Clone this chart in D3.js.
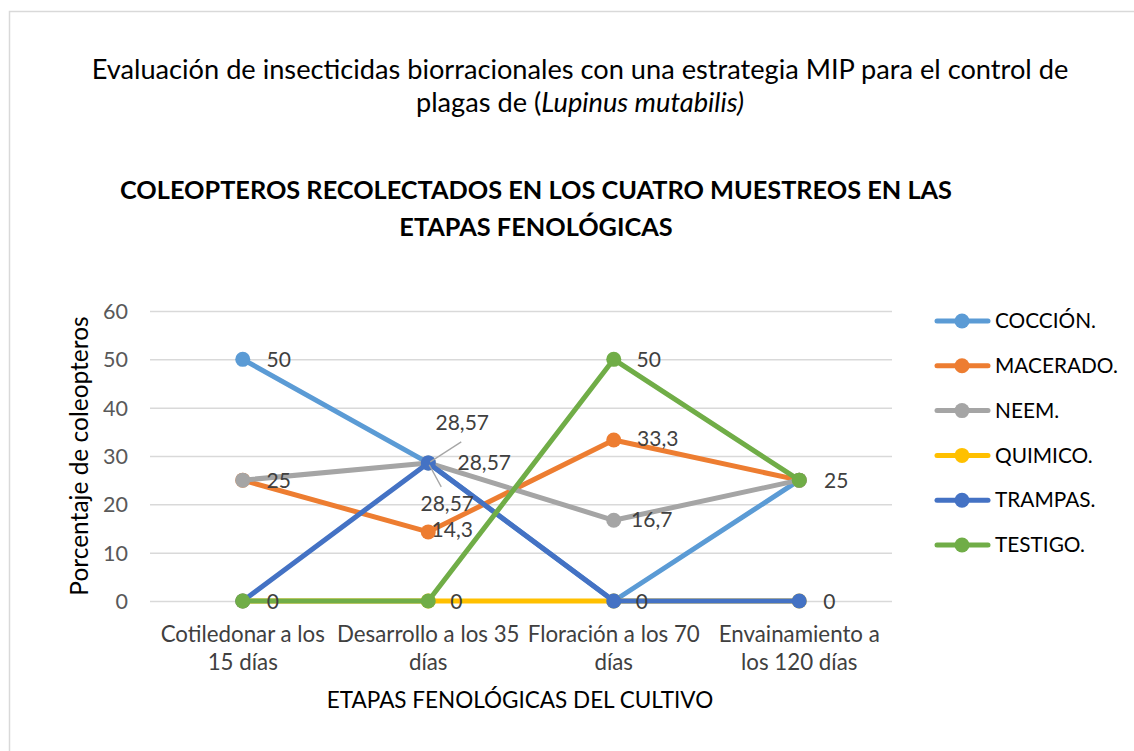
<!DOCTYPE html>
<html><head><meta charset="utf-8">
<script src="https://cdn.jsdelivr.net/npm/d3@7"></script>
<style>
html,body{margin:0;padding:0;background:#fff;}
svg{display:block;font-family:"Lato","Open Sans",sans-serif;}
</style></head>
<body><svg id="c" width="1134" height="751"></svg>
<script>
const categories = [["Cotiledonar a los","15 días"],["Desarrollo a los 35","días"],["Floración a los 70","días"],["Envainamiento a","los 120 días"]];
const seriesNames = ["COCCIÓN.","MACERADO.","NEEM.","QUIMICO.","TRAMPAS.","TESTIGO."];
const coccion  = [50, 28.57, 0, 25];
const macerado = [25, 14.3, 33.3, 25];
const neem     = [25, 28.57, 16.7, 25];
const quimico  = [0, 0, 0, 0];
const trampas  = [0, 28.57, 0, 0];
const testigo  = [0, 0, 50, 25];
const yTicks = [0,10,20,30,40,50,60];
const colors = ["#5B9BD5","#ED7D31","#A5A5A5","#FFC000","#4472C4","#70AD47"];
const allValues = [coccion, macerado, neem, quimico, trampas, testigo];

// label visibility/placement: [seriesIndex, pointIndex, dx, dy, leader]
const labelPlacements = [
  [0,0,36,0],[1,0,36,0],[5,0,30,1],
  [0,1,34,-40,true],[2,1,56,0],[4,1,19,41,true],[1,1,24,-2],[5,1,28,1],
  [5,2,35,0],[1,2,44,-1],[2,2,38,-1],[4,2,28,1],
  [5,3,37,0],[4,3,30,1]
];

const svg = d3.select("#c");
// outer border
svg.append("rect").attr("x",9.5).attr("y",11.5).attr("width",1140).attr("height",760)
  .attr("fill","#fff").attr("stroke","#d9d9d9").attr("stroke-width",1.5);

// titles
svg.append("text").attr("x",580).attr("y",79).attr("text-anchor","middle")
  .attr("font-size",27.2).attr("fill","#000")
  .text("Evaluación de insecticidas biorracionales con una estrategia MIP para el control de");
const t2 = svg.append("text").attr("x",580).attr("y",112).attr("text-anchor","middle")
  .attr("font-size",27.2).attr("fill","#000");
t2.append("tspan").text("plagas de (");
t2.append("tspan").attr("font-style","italic").text("Lupinus mutabilis)");

svg.append("text").attr("x",536).attr("y",199).attr("text-anchor","middle")
  .attr("font-size",25.3).attr("font-weight","bold").attr("fill","#000")
  .text("COLEOPTEROS RECOLECTADOS EN LOS CUATRO MUESTREOS EN LAS");
svg.append("text").attr("x",536).attr("y",236).attr("text-anchor","middle")
  .attr("font-size",25.3).attr("font-weight","bold").attr("fill","#000")
  .text("ETAPAS FENOLÓGICAS");

const x0 = 150, x1 = 892, yTop = 311, yBot = 601;
const x = d3.scalePoint().domain(d3.range(categories.length)).range([x0,x1]).padding(0.5);
const y = d3.scaleLinear().domain([0,60]).range([yBot,yTop]);

// gridlines
const yAxis = d3.axisLeft(y).tickValues(yTicks).tickSize(-(x1-x0)).tickPadding(22);
const ga = svg.append("g").attr("transform",`translate(${x0},0)`).call(yAxis);
ga.select(".domain").remove();
ga.selectAll(".tick line").attr("stroke","#d9d9d9").attr("stroke-width",1.5);
ga.selectAll(".tick text").attr("font-size",21.5).attr("fill","#595959")
  .attr("font-family","Lato, sans-serif").attr("dy","0.35em");

// x labels
const xg = svg.append("g");
categories.forEach((c,i)=>{
  c.forEach((line,j)=>{
    xg.append("text").attr("x",x(i)).attr("y",642+j*28).attr("text-anchor","middle")
      .attr("font-size",22.3).attr("fill","#404040").text(line);
  });
});

// axis titles
svg.append("text").attr("transform",`translate(88,${(yTop+yBot)/2}) rotate(-90)`)
  .attr("text-anchor","middle").attr("font-size",24.5).attr("fill","#000")
  .text("Porcentaje de coleopteros");
svg.append("text").attr("x",520).attr("y",708).attr("text-anchor","middle")
  .attr("font-size",22.5).attr("fill","#000").text("ETAPAS FENOLÓGICAS DEL CULTIVO");

// lines
const line = d3.line().x((d,i)=>x(i)).y(d=>y(d));
allValues.forEach((vals,s)=>{
  const g = svg.append("g");
  g.append("path").attr("d",line(vals)).attr("fill","none").attr("stroke",colors[s])
    .attr("stroke-width",5).attr("stroke-linejoin","round").attr("stroke-linecap","round");
  g.selectAll("circle").data(vals).join("circle")
    .attr("cx",(d,i)=>x(i)).attr("cy",d=>y(d)).attr("r",7.5).attr("fill",colors[s]);
});

// data labels
const fmt = v => String(v).replace(".",",");
labelPlacements.forEach(([s,i,dx,dy,leader])=>{
  const v = allValues[s][i];
  const px = x(i), py = y(v);
  if (leader) {
    if (dy < 0) {
      svg.append("line").attr("x1",px+2).attr("y1",py-1).attr("x2",px+33).attr("y2",py-21)
        .attr("stroke","#a6a6a6").attr("stroke-width",1.3);
    } else {
      svg.append("line").attr("x1",px+1).attr("y1",py+2).attr("x2",px+13).attr("y2",py+24)
        .attr("stroke","#a6a6a6").attr("stroke-width",1.3);
    }
  }
  svg.append("text").attr("x",px+dx).attr("y",py+dy).attr("dy","0.35em")
    .attr("text-anchor","middle").attr("font-size",21).attr("fill","#404040").text(fmt(v));
});

// legend
const lg = svg.append("g");
seriesNames.forEach((n,s)=>{
  const ly = 321 + s*44.8;
  lg.append("line").attr("x1",937).attr("x2",988).attr("y1",ly).attr("y2",ly)
    .attr("stroke",colors[s]).attr("stroke-width",5).attr("stroke-linecap","round");
  lg.append("circle").attr("cx",962).attr("cy",ly).attr("r",7.5).attr("fill",colors[s]);
  lg.append("text").attr("x",995).attr("y",ly).attr("dy","0.35em").attr("font-size",20.8)
    .attr("fill","#000").text(n);
});
</script></body></html>
